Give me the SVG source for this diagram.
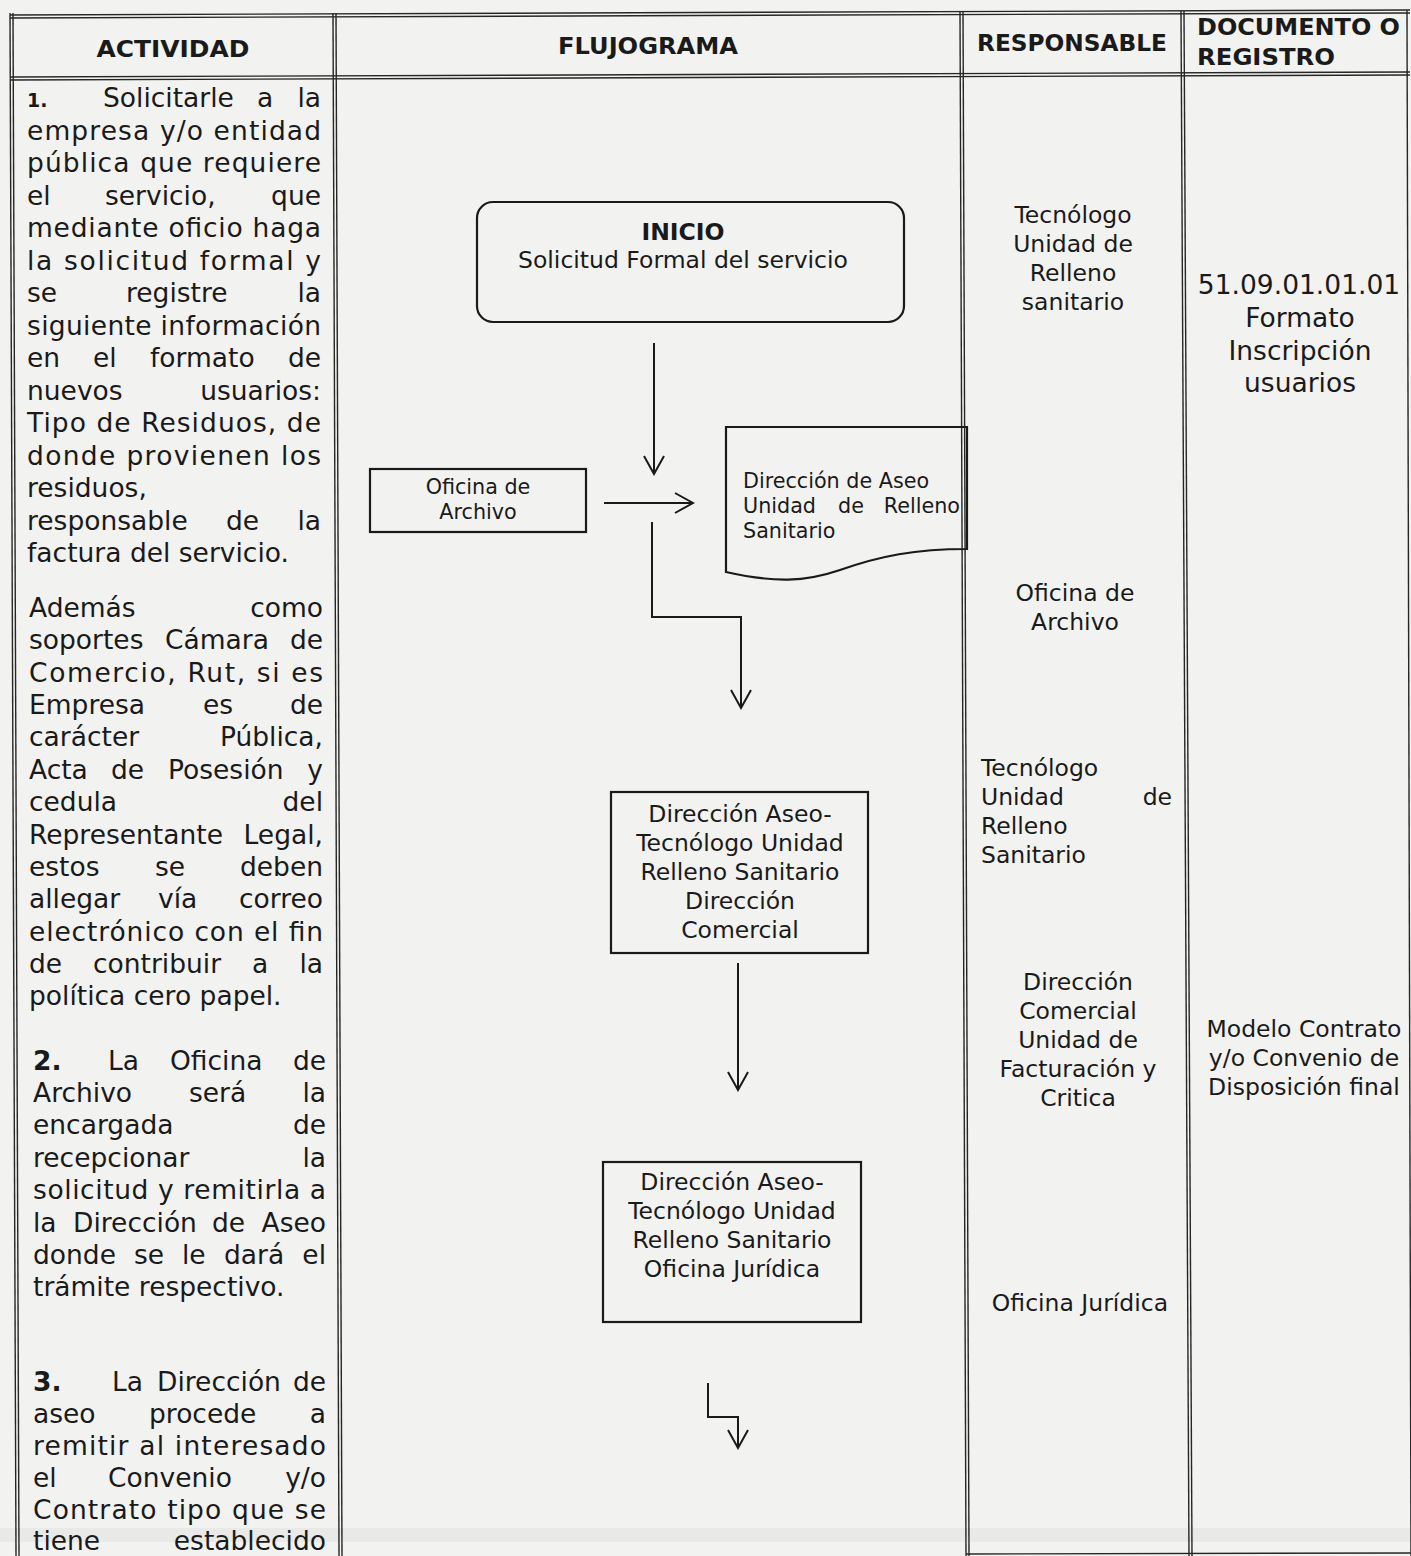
<svg xmlns="http://www.w3.org/2000/svg" width="1411" height="1556" viewBox="0 0 1411 1556">
<defs>
<style>
.bg{fill:#f2f2f0}
.grid line{stroke:#262626;stroke-width:1.4}
.box{fill:none;stroke:#1a1a1a;stroke-width:2.2}
.con{fill:none;stroke:#1a1a1a;stroke-width:2}
text{font-family:"DejaVu Sans",Verdana,sans-serif;fill:#1a1a1a}
.h{font-size:23px;font-weight:bold}
.p{font-size:26.5px}
.pb{font-size:26.5px;font-weight:bold}
.n1{font-size:19px;font-weight:bold}
.f{font-size:23.5px}
.fs{font-size:20.7px}
.c{text-anchor:middle}
.e{text-anchor:end}
</style>
<marker id="ah" markerUnits="userSpaceOnUse" viewBox="-2 -12 22 24" refX="18" refY="0" markerWidth="22" markerHeight="24" orient="auto">
<path d="M0,-10 L18,0 L0,10" fill="none" stroke="#1a1a1a" stroke-width="2"/>
</marker>
</defs>
<rect class="bg" x="0" y="0" width="1411" height="1556"/>
<rect x="0" y="1528" width="1411" height="14" fill="#000" opacity="0.035"/>

<g id="table" class="grid">
<line x1="10" y1="15" x2="1410" y2="10"/>
<line x1="10" y1="18" x2="1410" y2="13"/>
<line x1="10" y1="77" x2="1410" y2="72"/>
<line x1="10" y1="80" x2="1410" y2="75"/>
<line x1="966" y1="1554" x2="1411" y2="1553"/>
<line x1="10" y1="13" x2="16" y2="1556"/>
<line x1="13" y1="13" x2="19" y2="1556"/>
<line x1="333" y1="13" x2="339" y2="1556"/>
<line x1="336" y1="13" x2="342" y2="1556"/>
<line x1="960" y1="12" x2="966" y2="1556"/>
<line x1="963" y1="12" x2="969" y2="1556"/>
<line x1="1181" y1="11" x2="1189" y2="1556"/>
<line x1="1184" y1="11" x2="1192" y2="1556"/>
<line x1="1407" y1="10" x2="1411" y2="1556"/>
</g>

<g id="header">
<text class="h c" x="173" y="57" textLength="153" lengthAdjust="spacingAndGlyphs">ACTIVIDAD</text>
<text class="h c" x="648" y="54" textLength="180" lengthAdjust="spacingAndGlyphs">FLUJOGRAMA</text>
<text class="h c" x="1072" y="51" textLength="190" lengthAdjust="spacingAndGlyphs">RESPONSABLE</text>
<text class="h" x="1197" y="35" textLength="203" lengthAdjust="spacingAndGlyphs">DOCUMENTO O</text>
<text class="h" x="1197" y="65" textLength="138" lengthAdjust="spacingAndGlyphs">REGISTRO</text>
</g>

<g id="actividad">
<text class="n1" x="27" y="107">1.</text>
<text class="p" x="103" y="107">Solicitarle</text>
<text class="p" x="257" y="107">a</text>
<text class="p e" x="321" y="107">la</text>
<text class="p" x="27" y="139.5" textLength="294" lengthAdjust="spacing">empresa y/o entidad</text>
<text class="p" x="27" y="172" textLength="294" lengthAdjust="spacing">pública que requiere</text>
<text class="p" x="27" y="204.5">el</text>
<text class="p" x="105" y="204.5">servicio,</text>
<text class="p e" x="321" y="204.5">que</text>
<text class="p" x="27" y="237" textLength="294" lengthAdjust="spacing">mediante oficio haga</text>
<text class="p" x="27" y="269.5" textLength="294" lengthAdjust="spacing">la solicitud formal y</text>
<text class="p" x="27" y="302">se</text>
<text class="p" x="126" y="302">registre</text>
<text class="p e" x="321" y="302">la</text>
<text class="p" x="27" y="334.5" textLength="294" lengthAdjust="spacing">siguiente información</text>
<text class="p" x="27" y="367">en</text>
<text class="p" x="93" y="367">el</text>
<text class="p" x="150" y="367">formato</text>
<text class="p e" x="321" y="367">de</text>
<text class="p" x="27" y="399.5">nuevos</text>
<text class="p e" x="321" y="399.5">usuarios:</text>
<text class="p" x="27" y="432" textLength="294" lengthAdjust="spacing">Tipo de Residuos, de</text>
<text class="p" x="27" y="464.5" textLength="294" lengthAdjust="spacing">donde provienen los</text>
<text class="p" x="27" y="497">residuos,</text>
<text class="p" x="27" y="529.5">responsable</text>
<text class="p" x="226" y="529.5">de</text>
<text class="p e" x="321" y="529.5">la</text>
<text class="p" x="27" y="562">factura del servicio.</text>

<text class="p" x="29" y="617">Además</text>
<text class="p e" x="323" y="617">como</text>
<text class="p" x="29" y="649.4">soportes</text>
<text class="p" x="165" y="649.4">Cámara</text>
<text class="p e" x="323" y="649.4">de</text>
<text class="p" x="29" y="681.7" textLength="294" lengthAdjust="spacing">Comercio, Rut, si es</text>
<text class="p" x="29" y="714.1">Empresa</text>
<text class="p" x="203" y="714.1">es</text>
<text class="p e" x="323" y="714.1">de</text>
<text class="p" x="29" y="746.4">carácter</text>
<text class="p e" x="323" y="746.4">Pública,</text>
<text class="p" x="29" y="778.8">Acta</text>
<text class="p" x="111" y="778.8">de</text>
<text class="p" x="168" y="778.8">Posesión</text>
<text class="p e" x="323" y="778.8">y</text>
<text class="p" x="29" y="811.2">cedula</text>
<text class="p e" x="323" y="811.2">del</text>
<text class="p" x="29" y="843.5">Representante</text>
<text class="p e" x="323" y="843.5">Legal,</text>
<text class="p" x="29" y="875.9">estos</text>
<text class="p" x="155" y="875.9">se</text>
<text class="p e" x="323" y="875.9">deben</text>
<text class="p" x="29" y="908.2">allegar</text>
<text class="p" x="158" y="908.2">vía</text>
<text class="p e" x="323" y="908.2">correo</text>
<text class="p" x="29" y="940.6" textLength="294" lengthAdjust="spacing">electrónico con el fin</text>
<text class="p" x="29" y="973">de</text>
<text class="p" x="93" y="973">contribuir</text>
<text class="p" x="252" y="973">a</text>
<text class="p e" x="323" y="973">la</text>
<text class="p" x="29" y="1005.3">política cero papel.</text>

<text class="pb" x="33" y="1069.5">2.</text>
<text class="p" x="108" y="1069.5">La</text>
<text class="p" x="170" y="1069.5">Oficina</text>
<text class="p e" x="326" y="1069.5">de</text>
<text class="p" x="33" y="1101.9">Archivo</text>
<text class="p" x="189" y="1101.9">será</text>
<text class="p e" x="326" y="1101.9">la</text>
<text class="p" x="33" y="1134.3">encargada</text>
<text class="p e" x="326" y="1134.3">de</text>
<text class="p" x="33" y="1166.7">recepcionar</text>
<text class="p e" x="326" y="1166.7">la</text>
<text class="p" x="33" y="1199.1" textLength="293" lengthAdjust="spacing">solicitud y remitirla a</text>
<text class="p" x="33" y="1231.5">la</text>
<text class="p" x="73" y="1231.5">Dirección</text>
<text class="p" x="212" y="1231.5">de</text>
<text class="p e" x="326" y="1231.5">Aseo</text>
<text class="p" x="33" y="1263.9">donde</text>
<text class="p" x="134" y="1263.9">se</text>
<text class="p" x="182" y="1263.9">le</text>
<text class="p" x="224" y="1263.9">dará</text>
<text class="p e" x="326" y="1263.9">el</text>
<text class="p" x="33" y="1296.3">trámite respectivo.</text>

<text class="pb" x="33" y="1390.5">3.</text>
<text class="p" x="112" y="1390.5">La</text>
<text class="p" x="157" y="1390.5">Dirección</text>
<text class="p e" x="326" y="1390.5">de</text>
<text class="p" x="33" y="1422.5">aseo</text>
<text class="p" x="149" y="1422.5">procede</text>
<text class="p e" x="326" y="1422.5">a</text>
<text class="p" x="33" y="1454.5" textLength="293" lengthAdjust="spacing">remitir al interesado</text>
<text class="p" x="33" y="1486.5">el</text>
<text class="p" x="108" y="1486.5">Convenio</text>
<text class="p e" x="326" y="1486.5">y/o</text>
<text class="p" x="33" y="1518.5" textLength="293" lengthAdjust="spacing">Contrato tipo que se</text>
<text class="p" x="33" y="1550">tiene</text>
<text class="p e" x="326" y="1550">establecido</text>
</g>

<g id="connectors">
<path class="con" d="M654,343 V474" marker-end="url(#ah)"/>
<path class="con" d="M604,503 H693" marker-end="url(#ah)"/>
<path class="con" d="M652,522 V617 H741 V708" marker-end="url(#ah)"/>
<path class="con" d="M738,963 V1090" marker-end="url(#ah)"/>
<path class="con" d="M708,1383 V1417 H738 V1448" marker-end="url(#ah)"/>
</g>

<g id="n-inicio">
<rect class="box" x="477" y="202" width="427" height="120" rx="16"/>
<text class="f c" x="683" y="240" font-weight="bold">INICIO</text>
<text class="f c" x="683" y="268">Solicitud Formal del servicio</text>
</g>

<g id="n-archivo">
<rect class="box" x="370" y="469" width="216" height="63"/>
<text class="fs c" x="478" y="494">Oficina de</text>
<text class="fs c" x="478" y="519">Archivo</text>
</g>

<g id="n-direccion-doc">
<path class="box" d="M726,427 H967 V549 C915,549 880,556 840,570 C805,582 775,583 726,572 Z"/>
<text class="fs" x="743" y="488">Dirección de Aseo</text>
<text class="fs" x="743" y="513">Unidad</text>
<text class="fs" x="838" y="513">de</text>
<text class="fs e" x="960" y="513">Relleno</text>
<text class="fs" x="743" y="538">Sanitario</text>
</g>

<g id="n-comercial">
<rect class="box" x="611" y="792" width="257" height="161"/>
<text class="f c" x="740" y="821.5">Dirección Aseo-</text>
<text class="f c" x="740" y="850.5">Tecnólogo Unidad</text>
<text class="f c" x="740" y="879.5">Relleno Sanitario</text>
<text class="f c" x="740" y="908.5">Dirección</text>
<text class="f c" x="740" y="937.5">Comercial</text>
</g>

<g id="n-juridica">
<rect class="box" x="603" y="1162" width="258" height="160"/>
<text class="f c" x="732" y="1190">Dirección Aseo-</text>
<text class="f c" x="732" y="1219">Tecnólogo Unidad</text>
<text class="f c" x="732" y="1248">Relleno Sanitario</text>
<text class="f c" x="732" y="1277">Oficina Jurídica</text>
</g>

<g id="responsable">
<text class="f c" x="1073" y="223">Tecnólogo</text>
<text class="f c" x="1073" y="252">Unidad de</text>
<text class="f c" x="1073" y="281">Relleno</text>
<text class="f c" x="1073" y="310">sanitario</text>
<text class="f c" x="1075" y="601">Oficina de</text>
<text class="f c" x="1075" y="630">Archivo</text>
<text class="f" x="981" y="776">Tecnólogo</text>
<text class="f" x="981" y="805">Unidad</text>
<text class="f e" x="1172" y="805">de</text>
<text class="f" x="981" y="834">Relleno</text>
<text class="f" x="981" y="863">Sanitario</text>
<text class="f c" x="1078" y="990">Dirección</text>
<text class="f c" x="1078" y="1019">Comercial</text>
<text class="f c" x="1078" y="1048">Unidad de</text>
<text class="f c" x="1078" y="1077">Facturación y</text>
<text class="f c" x="1078" y="1106">Critica</text>
<text class="f c" x="1080" y="1311">Oficina Jurídica</text>
</g>

<g id="documento">
<text class="p c" x="1299" y="294">51.09.01.01.01</text>
<text class="p c" x="1300" y="327">Formato</text>
<text class="p c" x="1300" y="360">Inscripción</text>
<text class="p c" x="1300" y="392">usuarios</text>
<text class="f c" x="1304" y="1037">Modelo Contrato</text>
<text class="f c" x="1304" y="1066">y/o Convenio de</text>
<text class="f c" x="1304" y="1095">Disposición final</text>
</g>
</svg>
